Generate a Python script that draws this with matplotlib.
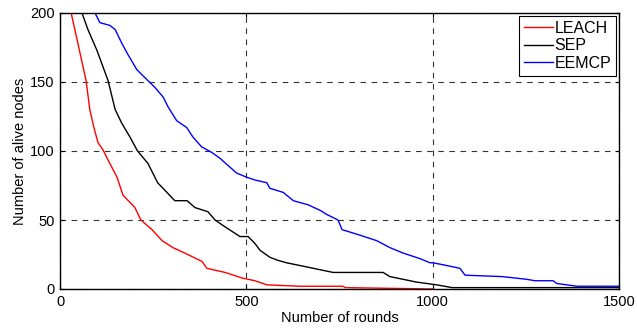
import matplotlib
matplotlib.use("Agg")
import matplotlib.pyplot as plt

# dati
leach_rounds = [0, 30, 48, 70, 80, 91, 102, 115, 126, 153, 169, 201, 217, 247, 274, 303,
                335, 381, 394, 443, 488, 523, 555, 644, 760, 765, 1000]
leach_nodes = [200, 200, 178, 151, 130, 117, 106, 101, 95, 81, 68, 59, 50, 43, 35, 30,
               26, 20, 15, 12, 8, 6, 3, 2, 2, 1, 0]

sep_rounds = [0, 59, 75, 99, 129, 148, 166, 188, 208, 236, 262, 287, 308, 341, 362, 397,
              416, 443, 483, 505, 523, 537, 563, 582, 608, 662, 697, 733, 867, 885, 957,
              1011, 1052, 1500]
sep_nodes = [200, 200, 188, 173, 151, 130, 120, 110, 100, 91, 77, 70, 64, 64, 59, 56,
             50, 45, 38, 38, 33, 28, 23, 21, 19, 16, 14, 12, 12, 9, 5,
             3, 1, 1]

eemcp_rounds = [0, 94, 107, 134, 148, 166, 180, 206, 236, 255, 277, 290, 313, 340, 357,
                380, 407, 428, 474, 501, 523, 555, 563, 599, 626, 666, 698, 716, 746, 757,
                805, 850, 885, 921, 966, 993, 1001, 1038, 1073, 1087, 1186, 1253, 1274,
                1323, 1333, 1387, 1500]
eemcp_nodes = [200, 200, 193, 191, 188, 178, 171, 159, 151, 146, 139, 132, 122, 117, 110,
               103, 99, 95, 84, 81, 79, 77, 73, 70, 64, 61, 57, 54, 50, 43,
               39, 35, 30, 26, 22, 19, 19, 17, 15, 10, 9, 7, 6,
               6, 4, 2, 2]

x_ticks = [0, 500, 1000, 1500]
y_ticks = [0, 50, 100, 150, 200]

plt.rcParams['font.family'] = ['Liberation Sans', 'DejaVu Sans']

fig = plt.figure(figsize=(6.37, 3.32), dpi=100)
ax = fig.add_axes([60 / 637, 43 / 332, 559 / 637, 276 / 332])

ax.plot(leach_rounds, leach_nodes, color='red', lw=1.0, label='LEACH')
ax.plot(sep_rounds, sep_nodes, color='black', lw=1.0, label='SEP')
ax.plot(eemcp_rounds, eemcp_nodes, color='blue', lw=1.0, label='EEMCP')

ax.set_xlim(0, 1500)
ax.set_ylim(0, 200)
ax.set_xticks(x_ticks)
ax.set_yticks(y_ticks)
ax.tick_params(direction='in', length=3, labelsize=10.5, top=True, right=True, pad=4)
ax.grid(True, color='black', linestyle=(0, (5, 5)), linewidth=0.8, alpha=0.8)
for s in ax.spines.values():
    s.set_linewidth(1.0)

ax.set_xlabel('Number of rounds', fontsize=10.5, labelpad=2)
ax.set_ylabel('Number of alive nodes', fontsize=10.5, labelpad=2)

leg = ax.legend(loc='upper right', fontsize=11.5, fancybox=False, framealpha=1,
                edgecolor='black', borderaxespad=0.2, handlelength=1.8,
                handletextpad=0.1, borderpad=0.3, labelspacing=0.15)
leg.get_frame().set_linewidth(0.8)

plt.savefig('out.png', dpi=100)
